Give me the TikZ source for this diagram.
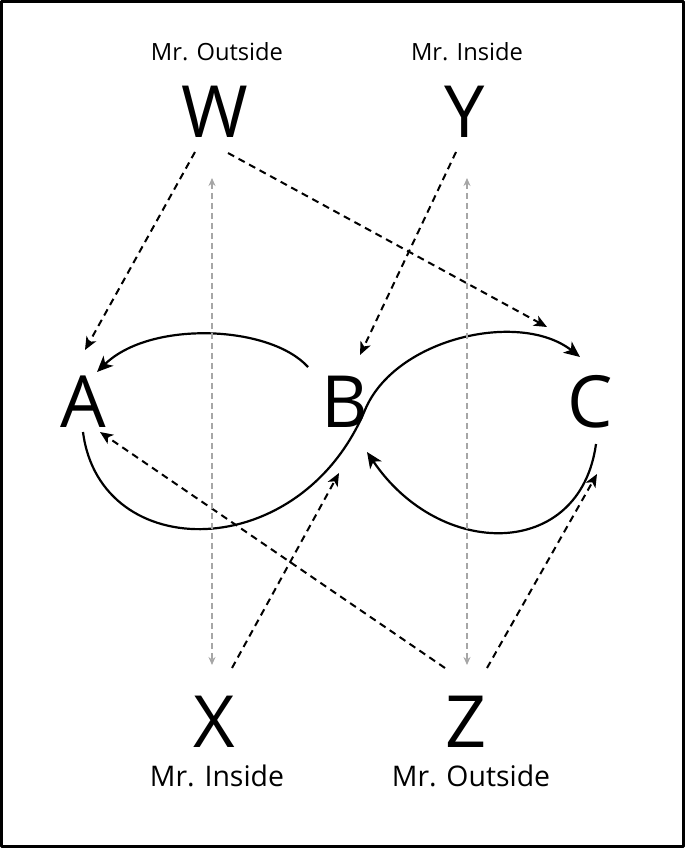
\documentclass[tikz,border=0pt]{standalone}
\usepackage{fontspec}
\setmainfont{Open Sans}
\usetikzlibrary{arrows.meta,calc}
\tikzset{
  letter/.style={inner sep=0pt,font=\fontsize{72}{72}\selectfont},
  toptag/.style={inner sep=0pt,font=\fontsize{23.7}{24}\selectfont},
  bottag/.style={inner sep=0pt,font=\fontsize{28.4}{29}\selectfont},
  turn/.style={line width=2.2pt,-{Stealth[length=16pt,width=14pt,inset=4.5pt]}},
  push/.style={line width=2pt,dash pattern=on 7pt off 5pt,
               -{Stealth[length=13pt,width=11pt,inset=3.5pt]}},
  pair/.style={line width=1.4pt,draw=black!35,dash pattern=on 6pt off 4pt,
               {Stealth[length=8pt,width=7pt]}-{Stealth[length=8pt,width=7pt]}},
  every picture/.style={line join=round}}

\begin{document}
\begin{tikzpicture}[x=1pt,y=-1pt]
  \draw[line width=3pt] (1.5,1.5) rectangle (683.5,846.5);
  % people
  \node[letter] (W) at (215,112) {W}; \node[toptag] (w) at (217,52) {Mr. Outside};
  \node[letter] (Y) at (465,112) {Y}; \node[toptag] (y) at (467,52) {Mr. Inside};
  \node[letter] (X) at (214,722) {X}; \node[bottag] (x) at (217,776) {Mr. Inside};
  \node[letter] (Z) at (466,722) {Z}; \node[bottag] (z) at (471,776) {Mr. Outside};
  % states
  \node[letter] (A) at (83,402) {A};
  \node[letter] (B) at (345,402) {B};
  \node[letter] (C) at (590,402) {C};
  % loop
  \draw[turn] ($(B)+(-37,-35)$) .. controls (270,325) and (150,320) .. ($(A)+(14,-30)$);
  \draw[turn] ($(A)+(0,30)$) .. controls (100,565) and (300,565) .. (365,410)
                             .. controls (395,338) and (520,310) .. ($(C)+(-10,-45)$);
  \draw[turn] ($(C)+(6,42)$) .. controls (580,560) and (440,560) .. ($(B)+(22,50)$);
  % pushes
  \draw[push] ($(W)+(-20,40)$) -- ($(A)+(2,-52)$);
  \draw[push] ($(W)+(13,41)$) -- ($(C)+(-43,-75)$);
  \draw[push] ($(Y)+(-9,40)$) -- ($(B)+(15,-47)$);
  \draw[push] ($(X)+(18,-54)$) -- ($(B)+(-6,71)$);
  \draw[push] ($(Z)+(-21,-54)$) -- ($(A)+(17,30)$);
  \draw[push] ($(Z)+(21,-54)$) -- ($(C)+(7,72)$);
  % pairs
  \draw[pair] ($(W)+(-3,66)$) -- ($(X)+(-2,-57)$);
  \draw[pair] ($(Y)+(2,66)$) -- ($(Z)+(1,-57)$);
\end{tikzpicture}
\end{document}
